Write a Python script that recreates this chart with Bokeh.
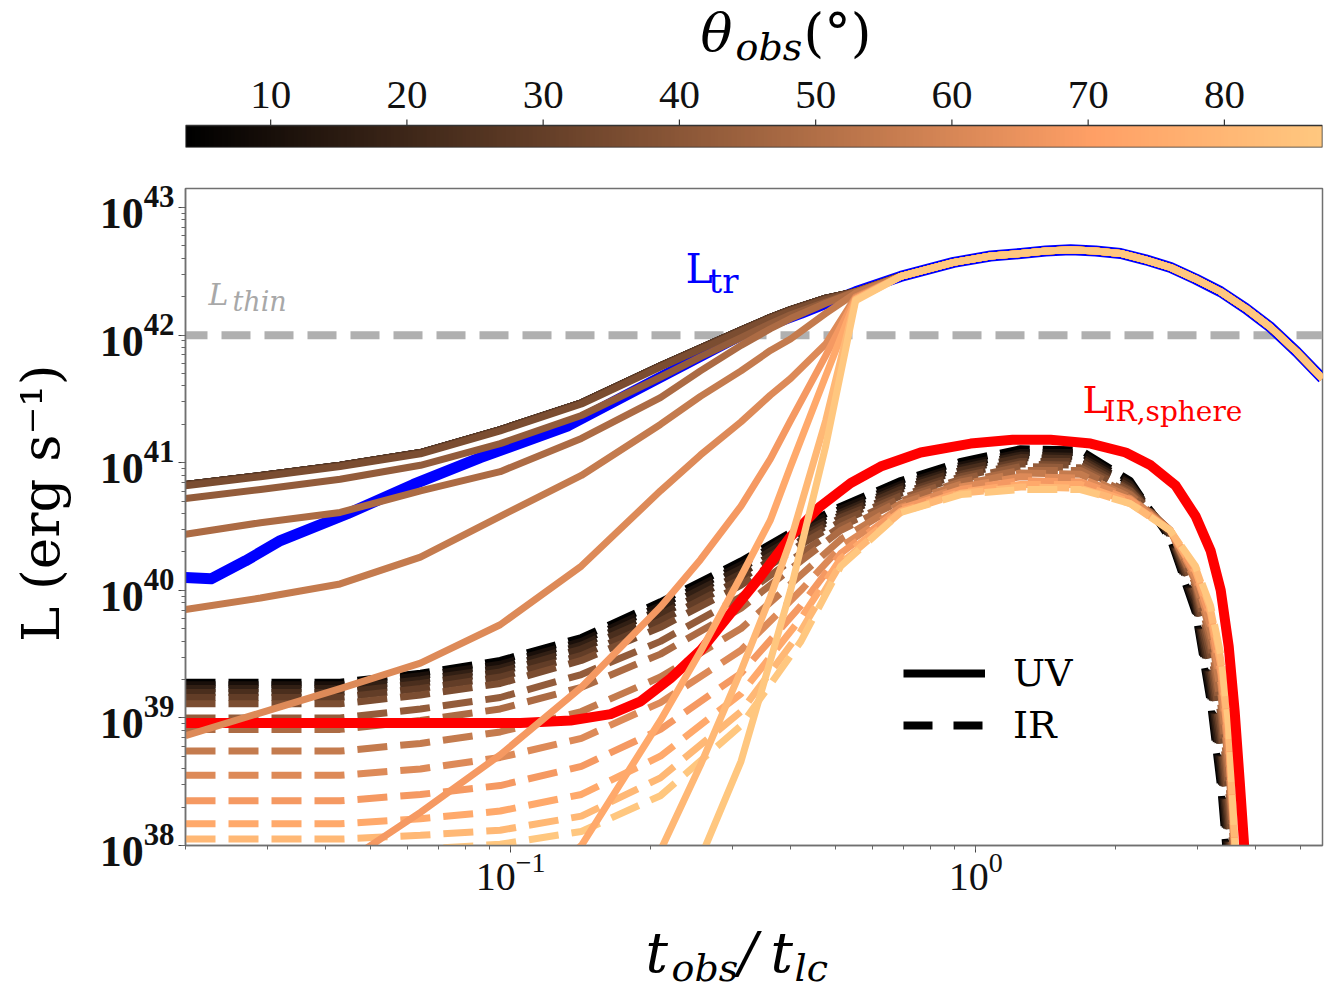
import numpy as np
from bokeh.plotting import figure
from bokeh.models import Label, Legend, LegendItem, Span, LinearColorMapper, Range1d
from bokeh.core.properties import value
from bokeh.layouts import column
from bokeh.embed import file_html
from bokeh.resources import INLINE

# ---------------- data ----------------
theta_deg = [3.75, 10.17, 16.59, 23.0, 29.4, 35.85, 42.27, 48.7, 55.1, 61.5, 67.95, 74.4, 80.8, 87.2]
theta_ticks = [10, 20, 30, 40, 50, 60, 70, 80]
L_thin = 1.0e42

# transmitted luminosity L_tr (blue)
t_tr_early = [0.020, 0.0227, 0.0269, 0.032, 0.0446, 0.0618, 0.0861, 0.133, 0.200, 0.313, 0.421, 0.552]
logL_tr_early = [40.10, 40.09, 40.23, 40.39, 40.60, 40.83, 41.04, 41.29, 41.63, 42.00, 42.17, 42.34]
t_tr_late = [0.690, 0.897, 1.077, 1.250, 1.415, 1.600, 1.811, 2.050, 2.321, 2.626, 2.972, 3.365,
             3.808, 4.310, 4.898, 5.57]
logL_tr_late = [42.46, 42.57, 42.62, 42.64, 42.66, 42.67, 42.66, 42.64, 42.59, 42.53, 42.44, 42.34,
                42.21, 42.06, 41.87, 41.66]

# L_IR,sphere (red)
t_sphere = [0.0200, 0.105, 0.1346, 0.1641, 0.1905, 0.2208, 0.2564, 0.2972, 0.3450, 0.3999, 0.4642,
            0.5385, 0.6247, 0.7616, 0.9756, 1.201, 1.449, 1.767, 2.102, 2.379, 2.693, 2.972, 3.201,
            3.365, 3.501, 3.606, 3.696, 3.771, 3.865]
logL_sphere = [38.96, 38.96, 38.98, 39.03, 39.13, 39.31, 39.53, 39.82, 40.11, 40.42, 40.66,
               40.84, 40.97, 41.08, 41.15, 41.18, 41.18, 41.15, 41.08, 40.98, 40.82, 40.58, 40.31,
               40.00, 39.56, 39.05, 38.51, 38.05, 37.41]

# UV curves (solid) before they join L_tr
t_uv = [0.020, 0.029, 0.043, 0.064, 0.095, 0.142, 0.210, 0.256, 0.313, 0.362, 0.400, 0.476, 0.552]
uv_t04 = [40.83, 40.90, 40.98, 41.08, 41.26, 41.47, 41.76, 41.90, 42.04, 42.14, 42.20, 42.29, 42.34]
uv_t10 = [40.83, 40.90, 40.98, 41.08, 41.26, 41.47, 41.76, 41.90, 42.04, 42.14, 42.20, 42.29, 42.34]
uv_t17 = [40.83, 40.90, 40.98, 41.08, 41.26, 41.47, 41.76, 41.90, 42.04, 42.14, 42.20, 42.29, 42.34]
uv_t23 = [40.83, 40.90, 40.98, 41.08, 41.26, 41.47, 41.76, 41.90, 42.04, 42.14, 42.20, 42.29, 42.34]
uv_t29 = [40.83, 40.90, 40.98, 41.08, 41.26, 41.47, 41.76, 41.90, 42.04, 42.14, 42.20, 42.29, 42.34]
uv_t36 = [40.82, 40.89, 40.97, 41.07, 41.25, 41.46, 41.75, 41.89, 42.03, 42.13, 42.19, 42.28, 42.34]
uv_t42 = [40.72, 40.79, 40.87, 40.98, 41.15, 41.37, 41.67, 41.83, 41.98, 42.09, 42.16, 42.26, 42.34]
uv_t49 = [40.44, 40.53, 40.61, 40.78, 40.93, 41.19, 41.51, 41.72, 41.92, 42.05, 42.13, 42.25, 42.34]
uv_t55 = [39.85, 39.94, 40.05, 40.26, 40.58, 40.90, 41.30, 41.52, 41.72, 41.88, 41.97, 42.17, 42.33]
uv_t62 = [38.86, 39.04, 39.23, 39.43, 39.73, 40.19, 40.78, 41.06, 41.32, 41.53, 41.66, 41.93, 42.30]
uv_t68 = [36.78, 37.33, 37.84, 38.26, 38.71, 39.24, 39.87, 40.24, 40.66, 41.03, 41.33, 41.84, 42.29]
uv_t74 = [35.21, 36.00, 36.55, 37.02, 37.45, 38.00, 38.98, 39.52, 40.11, 40.55, 40.97, 41.68, 42.28]
uv_t81 = [33.65, 34.43, 35.21, 35.92, 36.63, 37.25, 37.96, 38.63, 39.37, 39.95, 40.39, 41.33, 42.28]
uv_t87 = [32.08, 32.86, 33.65, 34.43, 35.21, 36.00, 37.10, 37.90, 38.66, 39.45, 40.00, 41.13, 42.27]

# IR curves (dashed)
t_ir = [0.020, 0.043, 0.064, 0.095, 0.142, 0.210, 0.313, 0.421, 0.513, 0.690, 0.929,
        1.25, 1.68, 2.15, 2.62, 2.97, 3.20, 3.37, 3.50, 3.62, 3.75]
ir_t04 = [39.28, 39.28, 39.35, 39.45, 39.63, 39.91, 40.23, 40.50, 40.66, 40.86, 41.01, 41.11, 41.10, 40.86, 40.40, 39.82, 39.11, 38.43, 37.72, 37.10, 36.47]
ir_t10 = [39.26, 39.26, 39.33, 39.42, 39.60, 39.88, 40.20, 40.48, 40.64, 40.83, 40.98, 41.08, 41.08, 40.84, 40.42, 39.85, 39.17, 38.52, 37.84, 37.21, 36.55]
ir_t17 = [39.23, 39.23, 39.30, 39.39, 39.57, 39.85, 40.17, 40.45, 40.61, 40.81, 40.96, 41.06, 41.05, 40.83, 40.43, 39.89, 39.25, 38.62, 37.96, 37.33, 36.63]
ir_t23 = [39.20, 39.20, 39.27, 39.36, 39.54, 39.81, 40.13, 40.42, 40.59, 40.79, 40.94, 41.04, 41.03, 40.81, 40.44, 39.93, 39.32, 38.73, 38.08, 37.45, 36.70]
ir_t29 = [39.16, 39.16, 39.23, 39.32, 39.49, 39.76, 40.09, 40.39, 40.57, 40.76, 40.91, 41.01, 41.01, 40.79, 40.45, 39.96, 39.40, 38.82, 38.19, 37.57, 36.78]
ir_t36 = [39.11, 39.11, 39.18, 39.27, 39.45, 39.71, 40.04, 40.36, 40.54, 40.74, 40.89, 40.99, 40.98, 40.78, 40.46, 40.00, 39.48, 38.91, 38.31, 37.64, 36.82]
ir_t42 = [39.00, 39.00, 39.07, 39.16, 39.34, 39.60, 39.95, 40.29, 40.50, 40.72, 40.87, 40.97, 40.96, 40.76, 40.47, 40.03, 39.55, 39.01, 38.43, 37.72, 36.86]
ir_t49 = [38.91, 38.91, 38.98, 39.07, 39.24, 39.50, 39.86, 40.23, 40.47, 40.70, 40.85, 40.94, 40.94, 40.75, 40.47, 40.05, 39.61, 39.09, 38.52, 37.80, 36.90]
ir_t55 = [38.74, 38.74, 38.80, 38.89, 39.05, 39.32, 39.70, 40.12, 40.40, 40.68, 40.83, 40.92, 40.91, 40.73, 40.47, 40.07, 39.67, 39.18, 38.62, 37.84, 36.90]
ir_t62 = [38.55, 38.55, 38.60, 38.69, 38.84, 39.12, 39.53, 40.00, 40.34, 40.65, 40.81, 40.89, 40.88, 40.72, 40.47, 40.10, 39.72, 39.26, 38.70, 37.88, 36.90]
ir_t68 = [38.35, 38.35, 38.40, 38.47, 38.62, 38.91, 39.35, 39.88, 40.29, 40.64, 40.79, 40.86, 40.85, 40.71, 40.47, 40.13, 39.78, 39.34, 38.78, 37.90, 36.90]
ir_t74 = [38.17, 38.17, 38.21, 38.27, 38.40, 38.70, 39.19, 39.78, 40.25, 40.62, 40.77, 40.83, 40.83, 40.69, 40.47, 40.15, 39.82, 39.40, 38.84, 37.92, 36.92]
ir_t81 = [38.05, 38.05, 38.08, 38.12, 38.23, 38.53, 39.05, 39.68, 40.21, 40.61, 40.76, 40.81, 40.80, 40.68, 40.47, 40.18, 39.85, 39.45, 38.90, 37.94, 36.94]
ir_t87 = [37.96, 37.96, 37.97, 38.01, 38.11, 38.39, 38.94, 39.60, 40.19, 40.61, 40.75, 40.79, 40.79, 40.68, 40.47, 40.19, 39.88, 39.49, 38.94, 37.96, 36.94]

uv_series = [uv_t04, uv_t10, uv_t17, uv_t23, uv_t29, uv_t36, uv_t42,
             uv_t49, uv_t55, uv_t62, uv_t68, uv_t74, uv_t81, uv_t87]
ir_series = [ir_t04, ir_t10, ir_t17, ir_t23, ir_t29, ir_t36, ir_t42,
             ir_t49, ir_t55, ir_t62, ir_t68, ir_t74, ir_t81, ir_t87]

# ---------------- helpers ----------------
th_lo, th_hi = min(theta_deg), max(theta_deg)
W = 1336
FRAME_L, FRAME_R = 185, 1322


def copper(f):
    r = min(1.0, 1.25 * f)
    g = 0.7812 * f
    b = 0.4975 * f
    return "#%02x%02x%02x" % (int(round(r * 255)), int(round(g * 255)), int(round(b * 255)))


copper_palette = [copper(i / 255.0) for i in range(256)]


def pw(logs):
    return [10.0 ** v for v in logs]


SERIF = "DejaVu Serif"
TIMES = "Liberation Serif"


def add_text(fig, text, sx, sy, size, color="black", style="normal", font=SERIF):
    # sx: pixels right of the frame's left edge; sy: text centre, pixels above the frame bottom
    fig.add_layout(Label(x=sx, y=sy, x_units="screen", y_units="screen", text=text,
                         text_font=font, text_font_size=f"{size}px", text_color=color,
                         text_font_style=style, text_baseline="middle", text_align="left"))


# ---------------- colour bar (with its title) ----------------
BAR_H = 22
cb = figure(width=W, height=158, x_range=Range1d(th_lo, th_hi), y_range=Range1d(0, 147),
            x_axis_location=None, y_axis_location=None,
            output_backend="svg", toolbar_location=None,
            min_border_left=FRAME_L, min_border_right=W - FRAME_R, min_border_top=0, min_border_bottom=11)
cb.grid.visible = False
cb.outline_line_color = None
mapper = LinearColorMapper(palette=copper_palette, low=th_lo, high=th_hi)
grad = np.array([np.linspace(th_lo, th_hi, 600)])
cb.image(image=[grad], x=th_lo, y=0, dw=th_hi - th_lo, dh=BAR_H, color_mapper=mapper)
cb.quad(left=[th_lo], right=[th_hi], bottom=[0], top=[BAR_H], fill_color=None,
        line_color="#333333", line_width=1.5)
n_t = len(theta_ticks)
cb.segment(x0=theta_ticks, y0=[BAR_H] * n_t, x1=theta_ticks, y1=[BAR_H + 6] * n_t,
           line_color="#333333", line_width=1.2)
cb.text(x=theta_ticks, y=[BAR_H + 31] * n_t, text=[str(t) for t in theta_ticks],
        text_font=value(TIMES), text_font_size=value("41px"), text_color="#111111",
        text_align="center", text_baseline="middle")
add_text(cb, "θ", 700 - FRAME_L, 115, 53, style="italic")
add_text(cb, "obs", 735 - FRAME_L, 101, 38, style="italic")
add_text(cb, "(°)", 803 - FRAME_L, 115, 53)

# ---------------- main plot ----------------
p = figure(width=W, height=754, x_axis_type="log", y_axis_type="log",
           x_range=Range1d(0.02, 5.57), y_range=Range1d(1e38, 1.41e43),
           output_backend="svg", toolbar_location=None,
           min_border_left=FRAME_L, min_border_right=W - FRAME_R, min_border_top=30, min_border_bottom=67)
p.grid.visible = False
p.outline_line_color = "#707070"
p.outline_line_width = 1.5
p.background_fill_color = "white"

for ax in (p.xaxis, p.yaxis):
    ax.axis_line_color = "#707070"
    ax.axis_line_width = 1.5
    ax.major_tick_line_color = "#444444"
    ax.minor_tick_line_color = "#666666"
    ax.major_tick_out = 7
    ax.major_tick_in = 0
    ax.minor_tick_out = 4
    ax.minor_tick_in = 0
    ax.major_label_text_color = "#111111"

p.yaxis.major_label_text_font = TIMES
p.yaxis.major_label_text_font_style = "bold"
p.yaxis.major_label_text_font_size = "44px"
p.yaxis.major_label_standoff = 4
p.xaxis.major_label_text_font = TIMES
p.xaxis.major_label_text_font_size = "40px"
p.xaxis.major_label_standoff = 0

p.yaxis.axis_label = "\u00a0\u2009L (erg s⁻¹)"
p.yaxis.axis_label_text_font = SERIF
p.yaxis.axis_label_text_font_style = "normal"
p.yaxis.axis_label_text_font_size = "53px"
p.yaxis.axis_label_text_color = "black"
p.yaxis.axis_label_standoff = 26

# L_thin reference level
p.add_layout(Span(location=L_thin, dimension="width", line_color="#b0b0b0", line_width=8,
                  line_dash="29 14", line_dash_offset=7, level="underlay"))

# L_tr
p.line(t_tr_early + t_tr_late, pw(logL_tr_early + logL_tr_late),
       line_color="#0000ff", line_width=11, line_join="round")

colors = [copper((th - th_lo) / (th_hi - th_lo)) for th in theta_deg]

# IR (dashed)
for col, ir in zip(colors, ir_series):
    p.line(t_ir, pw(ir), line_color=col, line_width=7, line_dash="30 13")

# L_IR,sphere
p.line(t_sphere, pw(logL_sphere), line_color="#ff0000", line_width=10, line_join="round")

# UV (solid), joining L_tr after t ~ 0.55
for col, uv in zip(colors, uv_series):
    p.line(t_uv + t_tr_late, pw(uv + logL_tr_late), line_color=col, line_width=7, line_join="round")

# legend (glyph-only renderers, nothing drawn in the plot)
nan2 = [float("nan"), float("nan")]
r_uv = p.line(nan2, nan2, line_color="black", line_width=8)
r_ir = p.line(nan2, nan2, line_color="black", line_width=8, line_dash="29 21")
legend = Legend(items=[LegendItem(label="UV", renderers=[r_uv]),
                       LegendItem(label="IR", renderers=[r_ir])],
                location=(718, 97), glyph_width=82, glyph_height=46, label_height=46,
                label_standoff=28, spacing=6, padding=0, margin=0,
                background_fill_alpha=0, border_line_alpha=0,
                label_text_font=SERIF, label_text_font_size="38px", label_text_color="black")
p.add_layout(legend)

# curve labels
add_text(p, "L", 500, 577, 41, color="#0000ff")
add_text(p, "tr", 523, 565, 34, color="#0000ff")
add_text(p, "L", 897, 446, 38, color="#ff0000")
add_text(p, "IR,sphere", 919, 434, 28, color="#ff0000")
add_text(p, "L", 23, 551, 30, color="#a8a8a8", style="italic")
add_text(p, "thin", 47, 544, 27, color="#a8a8a8", style="italic")

# ---------------- x-axis label ----------------
xl = figure(width=W, height=78, x_range=Range1d(0, 1), y_range=Range1d(0, 1),
            x_axis_location=None, y_axis_location=None, output_backend="svg",
            toolbar_location=None, min_border_left=FRAME_L, min_border_right=W - FRAME_R,
            min_border_top=0, min_border_bottom=0)
xl.grid.visible = False
xl.outline_line_color = None
add_text(xl, "t", 645 - FRAME_L, 38, 56, style="italic")
add_text(xl, "obs", 671 - FRAME_L, 23, 38, style="italic")
add_text(xl, "/", 738 - FRAME_L, 38, 56, style="italic")
add_text(xl, "t", 770 - FRAME_L, 38, 56, style="italic")
add_text(xl, "lc", 794 - FRAME_L, 23, 38, style="italic")

layout = column(cb, p, xl, spacing=0)
open("out.html", "w").write(file_html(layout, INLINE, "plot"))
